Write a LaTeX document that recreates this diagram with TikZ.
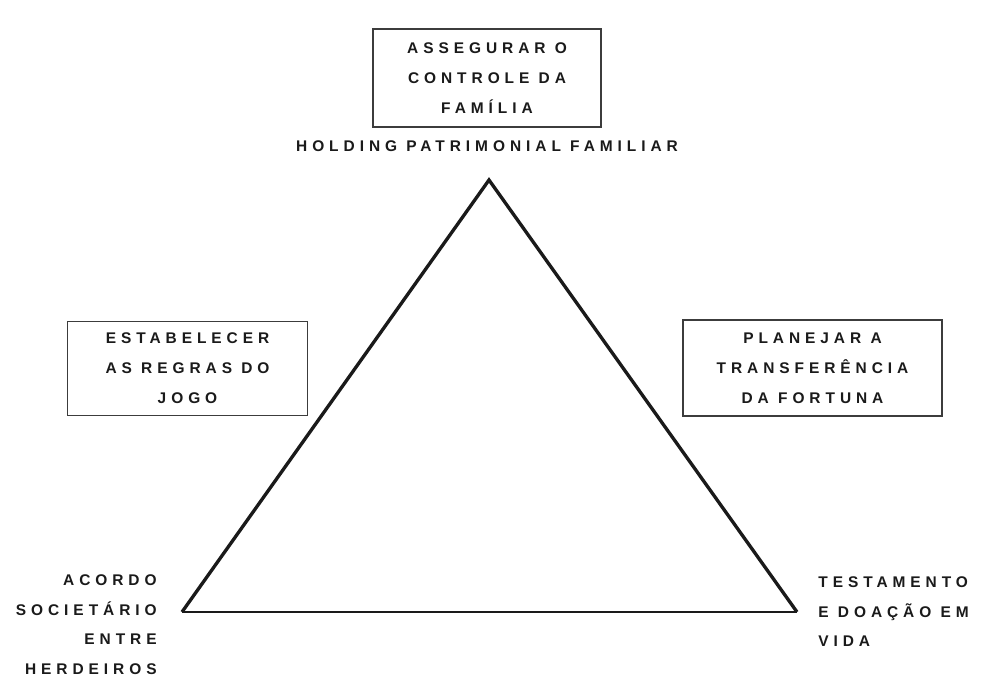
\documentclass[tikz,border=0pt]{standalone}
\usepackage{fontspec}
\newfontfamily\diagfont{Liberation Sans}[LetterSpace=32]
\usetikzlibrary{positioning}
\definecolor{inkblack}{HTML}{1A1A1A}
\definecolor{boxgrey}{HTML}{3C3C3C}

\tikzset{
  goalbox/.style={draw=boxgrey, line width=0.8pt, align=center, inner sep=0pt,
    font=\diagfont\bfseries\fontsize{8.8}{17}\selectfont, text=inkblack},
  cornerlabel/.style={inner sep=0pt,
    font=\diagfont\bfseries\fontsize{8.8}{17}\selectfont, text=inkblack}
}

\begin{document}
\begin{tikzpicture}
  \useasboundingbox (0,0) rectangle (19.78,13.8);
  \fill[white] (0,0) rectangle (19.78,13.8);

  \coordinate (apex) at (9.78,10.2);
  \coordinate (leftbase) at (3.64,1.56);
  \coordinate (rightbase) at (15.94,1.56);

  \draw[inkblack, line width=1.9pt, line join=miter] (leftbase) -- (apex) -- (rightbase);
  \draw[inkblack, line width=1.2pt] (leftbase) -- (rightbase);

  \node[goalbox, minimum width=4.56cm, minimum height=1.96cm]
    (controle) at (9.74,12.24) {ASSEGURAR O\\CONTROLE DA\\FAMÍLIA};
  \node[cornerlabel] (holding) at (9.74,10.88) {HOLDING PATRIMONIAL FAMILIAR};

  \node[goalbox, minimum width=4.8cm, minimum height=1.88cm]
    (regras) at (3.75,6.43) {ESTABELECER\\AS REGRAS DO\\JOGO};
  \node[goalbox, minimum width=5.18cm, minimum height=1.92cm]
    (fortuna) at (16.25,6.44) {PLANEJAR A\\TRANSFERÊNCIA\\DA FORTUNA};

  \node[cornerlabel, anchor=north east, align=right]
    (acordo) at (3.14,2.32) {ACORDO\\SOCIETÁRIO\\ENTRE\\HERDEIROS};
  \node[cornerlabel, anchor=north west, align=left]
    (testamento) at (16.36,2.28) {TESTAMENTO\\E DOAÇÃO EM\\VIDA};
\end{tikzpicture}
\end{document}
